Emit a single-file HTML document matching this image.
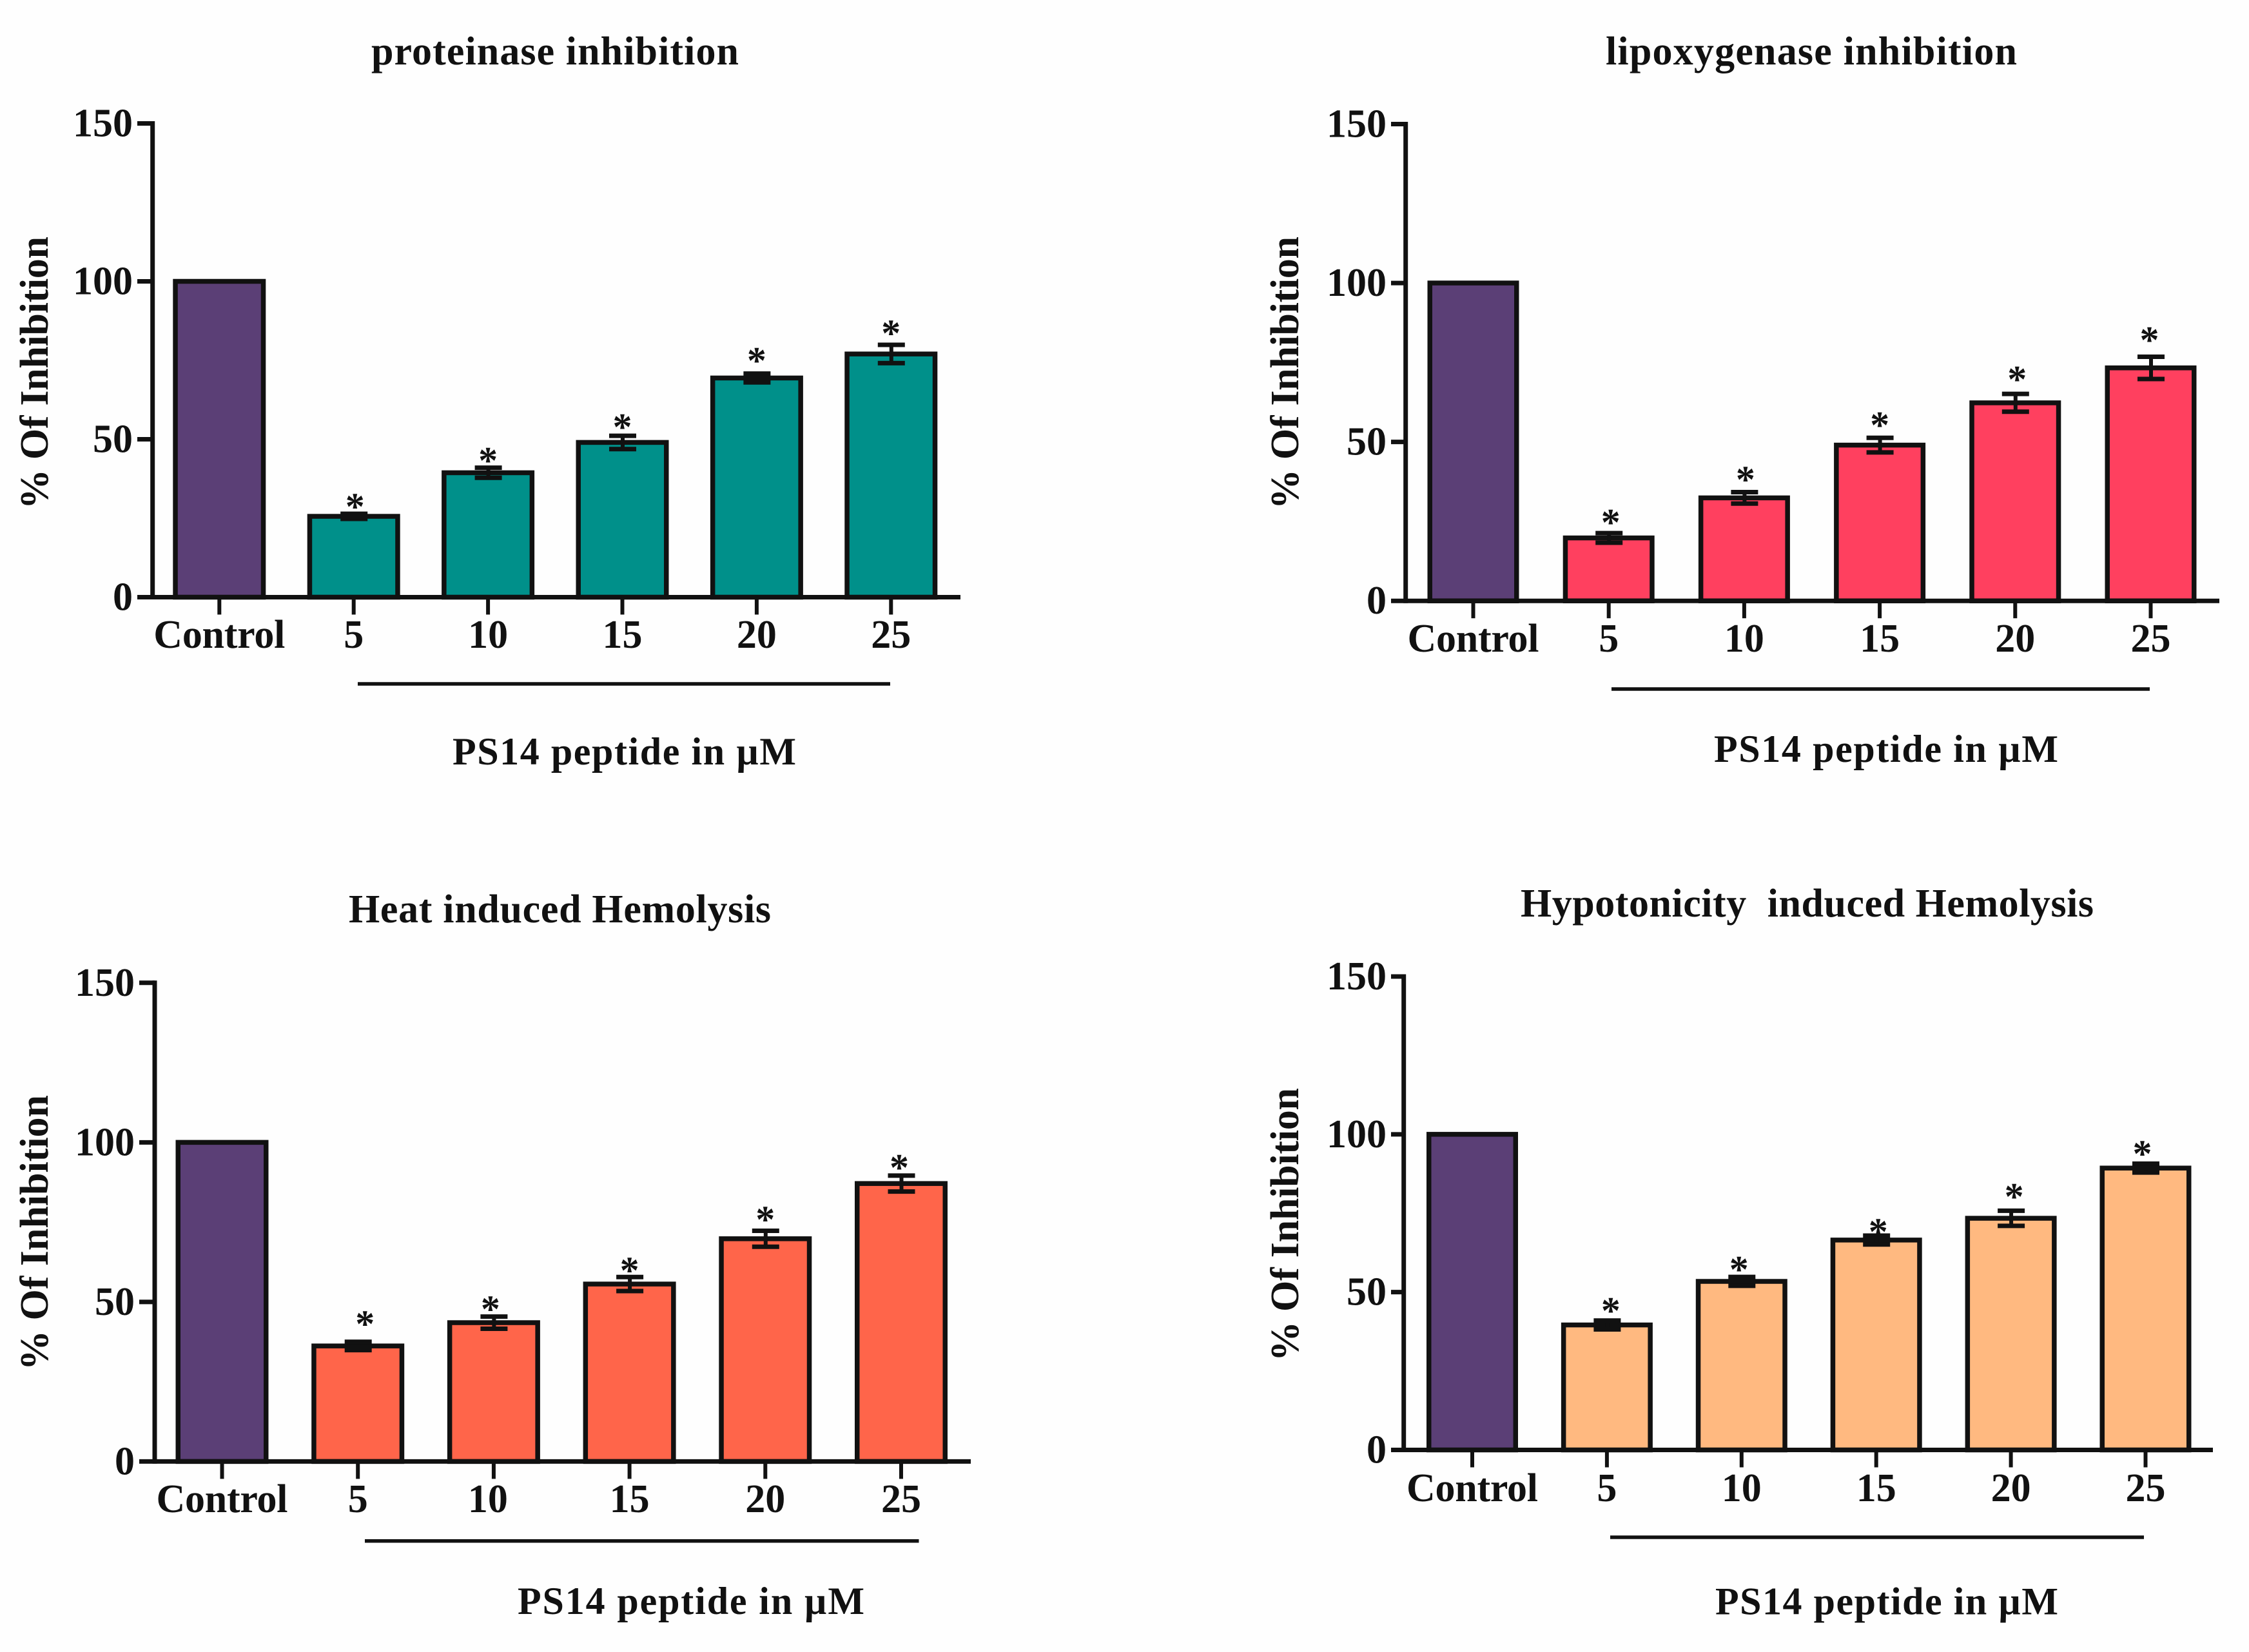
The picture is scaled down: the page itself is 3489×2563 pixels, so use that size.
<!DOCTYPE html>
<html lang="en">
<head>
<meta charset="utf-8">
<title>PS14 peptide inhibition charts</title>
<style>
  html, body { margin: 0; padding: 0; background: #fefefe; }
  svg { display: block; }
  text { font-family: "Liberation Serif", "DejaVu Serif", serif; font-weight: bold; fill: #111; }
</style>
</head>
<body>
<svg id="figure" xmlns="http://www.w3.org/2000/svg" width="3489" height="2563" viewBox="0 0 3489 2563">
  <rect x="0" y="0" width="3489" height="2563" fill="#fefefe"/>
</svg>
<script>
const categories = ["Control", "5", "10", "15", "20", "25"];
const yTickValues = [0, 50, 100, 150];
const yAxisTitle = "% Of Inhibition";
const xAxisTitle = "PS14 peptide in \u00B5M";

const proteinaseValues = [100, 25.6, 39.4, 49, 69.4, 77];
const proteinaseErrors = [0, 0.8, 1.6, 2.1, 1.4, 2.9];
const proteinaseStars = [null, 30.5, 45.1, 55.7, 76.7, 85.4];

const lipoxygenaseValues = [100, 19.8, 32.4, 49, 62.3, 73.3];
const lipoxygenaseErrors = [0, 1.5, 1.8, 2.3, 2.8, 3.5];
const lipoxygenaseStars = [null, 26.5, 40, 57.1, 71.5, 83.9];

const heatValues = [100, 36.2, 43.5, 55.6, 69.8, 87.1];
const heatErrors = [0, 1.3, 1.9, 2.2, 2.5, 2.5];
const heatStars = [null, 44.9, 49.6, 61.7, 77.6, 93.9];

const hypotonicityValues = [100, 39.6, 53.4, 66.5, 73.4, 89.3];
const hypotonicityErrors = [0, 1.4, 1.4, 1.4, 2.4, 1.4];
const hypotonicityStars = [null, 45.9, 59, 71, 82.1, 95.7];

const panels = [
  { key: "proteinase", title: "proteinase inhibition", fill: "#00908a",
    values: proteinaseValues, errors: proteinaseErrors, stars: proteinaseStars, starNudge: [0, 2, 0, 0, 0, 0], labelNudge: [0, 0, 0, 0, 0, 0],
    axisX: 236.7, y0: 926.5, y150: 191.5, x0: 340.3, step: 208.4, barOuter: 144, axisRight: 1490, axisLeft: 213,
    tickBase: 1005, bar: [555, 1381, 1061], xTitle: [702, 1235, 1186],
    title2: [576, 1146, 100], yTitle: [74, 790, 367] },
  { key: "lipoxygenase", title: "lipoxygenase inhibition", fill: "#ff405f",
    values: lipoxygenaseValues, errors: lipoxygenaseErrors, stars: lipoxygenaseStars, starNudge: [0, 3, 2, 0, 3, -2], labelNudge: [0, 0, 0, 0, 0, 0],
    axisX: 2180.7, y0: 932.2, y150: 192.5, x0: 2285.5, step: 210.2, barOuter: 142, axisRight: 3443, axisLeft: 2158,
    tickBase: 1011, bar: [2500, 3335, 1069], xTitle: [2659, 3193, 1182],
    title2: [2491, 3129, 100], yTitle: [2014, 790, 367] },
  { key: "heat", title: "Heat induced Hemolysis", fill: "#ff654a",
    values: heatValues, errors: heatErrors, stars: heatStars, starNudge: [0, 11, -5, 0, 0, -3], labelNudge: [0, 0, -9, 0, 0, 0],
    axisX: 240, y0: 2267.4, y150: 1524.8, x0: 344.5, step: 210.7, barOuter: 144, axisRight: 1506, axisLeft: 216,
    tickBase: 2346, bar: [566, 1425.5, 2390.7], xTitle: [803, 1341, 2504],
    title2: [541, 1196, 1431], yTitle: [74, 2126, 1699] },
  { key: "hypotonicity", title: "Hypotonicity\u00A0 induced Hemolysis", fill: "#ffb980",
    values: hypotonicityValues, errors: hypotonicityErrors, stars: hypotonicityStars, starNudge: [0, 6, -4, 3, 5, -5], labelNudge: [0, 0, 0, 0, 0, 0],
    axisX: 2177.7, y0: 2249.5, y150: 1515, x0: 2284, step: 208.9, barOuter: 142, axisRight: 3433, axisLeft: 2158,
    tickBase: 2329, bar: [2498, 3326, 2385], xTitle: [2661, 3193, 2504.6],
    title2: [2359, 3248, 1422], yTitle: [2014, 2112, 1688] }
];

const NS = "http://www.w3.org/2000/svg";
const INK = "#111111";
const CONTROL_FILL = "#5b3f76";
const BAR_STROKE = 7.5;
const figure = document.getElementById("figure");

function setAttrs(el, attrs) {
  Object.keys(attrs).forEach(function (k) { el.setAttribute(k, attrs[k]); });
}

function addLine(parent, name, x1, y1, x2, y2, width) {
  const el = document.createElementNS(NS, "line");
  setAttrs(el, { x1: x1, y1: y1, x2: x2, y2: y2, stroke: INK, "stroke-width": width });
  
  
  parent.appendChild(el);
  return el;
}

function addText(parent, name, str, x, y, size, anchor, length) {
  const el = document.createElementNS(NS, "text");
  setAttrs(el, { x: x, y: y, "font-size": size, "text-anchor": anchor });
  if (length) { setAttrs(el, { textLength: length, lengthAdjust: "spacing" }); }
  
  
  el.textContent = str;
  parent.appendChild(el);
  return el;
}

panels.forEach(function (p) {
  const g = document.createElementNS(NS, "g");
  
  
  figure.appendChild(g);

  const yScale = function (v) { return p.y0 - v * (p.y0 - p.y150) / 150; };
  const xScale = function (i) { return p.x0 + i * p.step; };
  const barW = p.barOuter - BAR_STROKE;

  addText(g, p.key + "-title", p.title, p.title2[0], p.title2[2], 62, "start", p.title2[1] - p.title2[0]);

  // Bars
  p.values.forEach(function (v, i) {
    const r = document.createElementNS(NS, "rect");
    setAttrs(r, {
      x: xScale(i) - barW / 2, y: yScale(v), width: barW, height: p.y0 - yScale(v),
      fill: i === 0 ? CONTROL_FILL : p.fill, stroke: INK, "stroke-width": BAR_STROKE,
      "stroke-linejoin": "miter"
    });
    
    
    g.appendChild(r);
  });

  // Error bars and significance stars
  p.values.forEach(function (v, i) {
    const e = p.errors[i];
    if (e > 0) {
      const cx = xScale(i) + 0.5;
      addLine(g, "error-stem-" + categories[i], cx, yScale(v + e), cx, yScale(v - e), 6);
      addLine(g, "error-cap-upper-" + categories[i], cx - 21, yScale(v + e), cx + 21, yScale(v + e), 7);
      addLine(g, "error-cap-lower-" + categories[i], cx - 21, yScale(v - e), cx + 21, yScale(v - e), 7);
    }
    if (p.stars[i] !== null) {
      addText(g, "significance-star-" + categories[i], "*", xScale(i) + p.starNudge[i], yScale(p.stars[i]) + 29, 60, "middle");
    }
  });

  // Axes
  addLine(g, "y-axis", p.axisX, yScale(150) - 3.5, p.axisX, p.y0 + 3.5, 7);
  addLine(g, "x-axis", p.axisLeft, p.y0, p.axisRight, p.y0, 7);

  yTickValues.forEach(function (t) {
    if (t !== 0) { addLine(g, "y-tick-" + t, p.axisLeft, yScale(t), p.axisX, yScale(t), 7); }
    addText(g, "y-tick-label-" + t, String(t), p.axisLeft - 7, yScale(t) + 20, 62, "end");
  });

  categories.forEach(function (c, i) {
    addLine(g, "x-tick-" + c, xScale(i), p.y0, xScale(i), p.y0 + 27, 6);
    addText(g, "x-tick-label-" + c, c, xScale(i) + p.labelNudge[i], p.tickBase, 62, "middle", c === "Control" ? 204 : null);
  });

  addLine(g, "dose-bracket-line", p.bar[0], p.bar[2], p.bar[1], p.bar[2], 5.5);
  addText(g, "x-axis-title", xAxisTitle, p.xTitle[0], p.xTitle[2], 60, "start", p.xTitle[1] - p.xTitle[0]);

  const yt = addText(g, "y-axis-title", yAxisTitle, 0, 0, 62, "start", p.yTitle[1] - p.yTitle[2]);
  yt.setAttribute("transform", "translate(" + p.yTitle[0] + " " + p.yTitle[1] + ") rotate(-90)");
});
</script>
</body>
</html>
